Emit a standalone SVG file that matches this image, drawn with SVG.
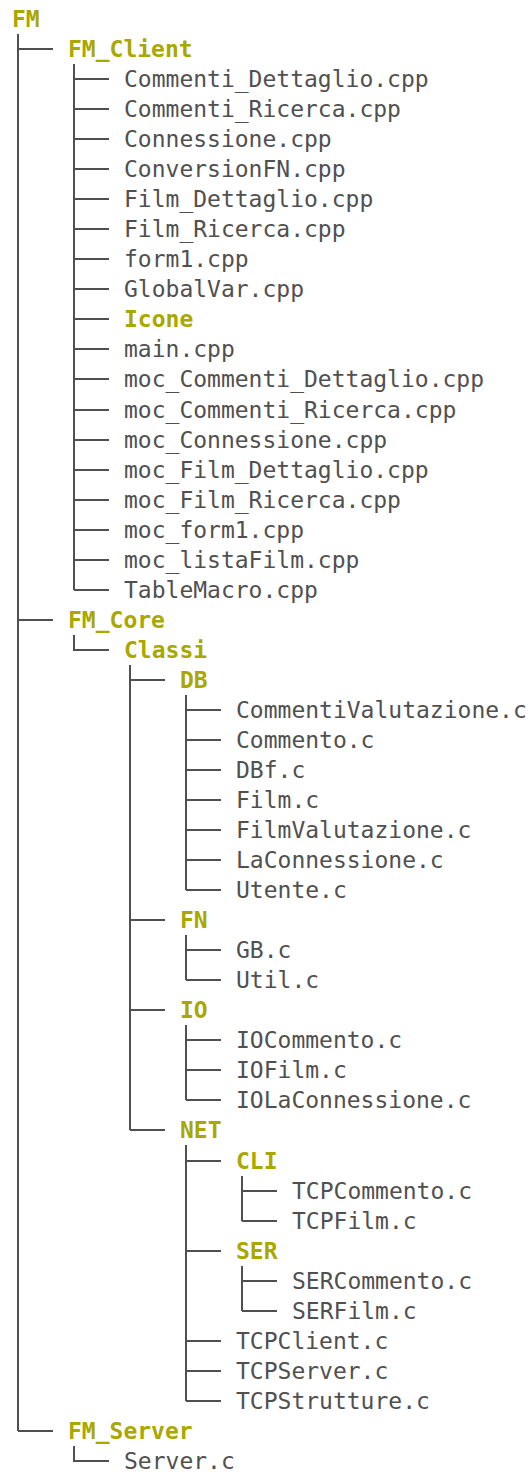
<svg xmlns="http://www.w3.org/2000/svg" width="531" height="1472" viewBox="0 0 531 1472">
  <style>
    text { font-family: "DejaVu Sans Mono", "Liberation Mono", monospace; font-size: 23px; }
    .dir { fill: #a8a800; font-weight: bold; }
    .file { fill: #505050; }
    .link { fill: none; stroke: #505050; stroke-width: 2; }
  </style>
  <rect width="531" height="1472" fill="#ffffff"/>

  <!-- tree connectors: one path per folder (trunk + branch ticks) -->
  <g id="connectors" class="link">
    <path d="M18,34 V1431 M18,49 H53 M18,620 H53 M18,1431 H53"/>
    <path d="M74,64 V590 M74,79 H109 M74,109 H109 M74,139 H109 M74,169 H109 M74,199 H109 M74,229 H109 M74,259 H109 M74,289 H109 M74,319 H109 M74,349 H109 M74,379 H109 M74,410 H109 M74,440 H109 M74,470 H109 M74,500 H109 M74,530 H109 M74,560 H109 M74,590 H109"/>
    <path d="M74,635 V650 H109"/>
    <path d="M130,665 V1130 M130,680 H165 M130,920 H165 M130,1010 H165 M130,1130 H165"/>
    <path d="M186,695 V890 M186,710 H221 M186,740 H221 M186,770 H221 M186,800 H221 M186,830 H221 M186,860 H221 M186,890 H221"/>
    <path d="M186,935 V980 M186,950 H221 M186,980 H221"/>
    <path d="M186,1025 V1100 M186,1040 H221 M186,1070 H221 M186,1100 H221"/>
    <path d="M186,1145 V1401 M186,1161 H221 M186,1251 H221 M186,1341 H221 M186,1371 H221 M186,1401 H221"/>
    <path d="M242,1176 V1221 M242,1191 H277 M242,1221 H277"/>
    <path d="M242,1266 V1311 M242,1281 H277 M242,1311 H277"/>
    <path d="M74,1446 V1461 H109"/>
  </g>

  <g id="FM"><text class="dir" x="12" y="27">FM</text></g>

  <g id="FM_Client"><text class="dir" x="68" y="57">FM_Client</text></g>
  <g id="Commenti_Dettaglio_cpp"><text class="file" x="124" y="87">Commenti_Dettaglio.cpp</text></g>
  <g id="Commenti_Ricerca_cpp"><text class="file" x="124" y="117">Commenti_Ricerca.cpp</text></g>
  <g id="Connessione_cpp"><text class="file" x="124" y="147">Connessione.cpp</text></g>
  <g id="ConversionFN_cpp"><text class="file" x="124" y="177">ConversionFN.cpp</text></g>
  <g id="Film_Dettaglio_cpp"><text class="file" x="124" y="207">Film_Dettaglio.cpp</text></g>
  <g id="Film_Ricerca_cpp"><text class="file" x="124" y="237">Film_Ricerca.cpp</text></g>
  <g id="form1_cpp"><text class="file" x="124" y="267">form1.cpp</text></g>
  <g id="GlobalVar_cpp"><text class="file" x="124" y="297">GlobalVar.cpp</text></g>
  <g id="Icone"><text class="dir" x="124" y="327">Icone</text></g>
  <g id="main_cpp"><text class="file" x="124" y="357">main.cpp</text></g>
  <g id="moc_Commenti_Dettaglio_cpp"><text class="file" x="124" y="387">moc_Commenti_Dettaglio.cpp</text></g>
  <g id="moc_Commenti_Ricerca_cpp"><text class="file" x="124" y="418">moc_Commenti_Ricerca.cpp</text></g>
  <g id="moc_Connessione_cpp"><text class="file" x="124" y="448">moc_Connessione.cpp</text></g>
  <g id="moc_Film_Dettaglio_cpp"><text class="file" x="124" y="478">moc_Film_Dettaglio.cpp</text></g>
  <g id="moc_Film_Ricerca_cpp"><text class="file" x="124" y="508">moc_Film_Ricerca.cpp</text></g>
  <g id="moc_form1_cpp"><text class="file" x="124" y="538">moc_form1.cpp</text></g>
  <g id="moc_listaFilm_cpp"><text class="file" x="124" y="568">moc_listaFilm.cpp</text></g>
  <g id="TableMacro_cpp"><text class="file" x="124" y="598">TableMacro.cpp</text></g>

  <g id="FM_Core"><text class="dir" x="68" y="628">FM_Core</text></g>
  <g id="Classi"><text class="dir" x="124" y="658">Classi</text></g>

  <g id="DB"><text class="dir" x="180" y="688">DB</text></g>
  <g id="CommentiValutazione_c"><text class="file" x="236" y="718">CommentiValutazione.c</text></g>
  <g id="Commento_c"><text class="file" x="236" y="748">Commento.c</text></g>
  <g id="DBf_c"><text class="file" x="236" y="778">DBf.c</text></g>
  <g id="Film_c"><text class="file" x="236" y="808">Film.c</text></g>
  <g id="FilmValutazione_c"><text class="file" x="236" y="838">FilmValutazione.c</text></g>
  <g id="LaConnessione_c"><text class="file" x="236" y="868">LaConnessione.c</text></g>
  <g id="Utente_c"><text class="file" x="236" y="898">Utente.c</text></g>

  <g id="FN"><text class="dir" x="180" y="928">FN</text></g>
  <g id="GB_c"><text class="file" x="236" y="958">GB.c</text></g>
  <g id="Util_c"><text class="file" x="236" y="988">Util.c</text></g>

  <g id="IO"><text class="dir" x="180" y="1018">IO</text></g>
  <g id="IOCommento_c"><text class="file" x="236" y="1048">IOCommento.c</text></g>
  <g id="IOFilm_c"><text class="file" x="236" y="1078">IOFilm.c</text></g>
  <g id="IOLaConnessione_c"><text class="file" x="236" y="1108">IOLaConnessione.c</text></g>

  <g id="NET"><text class="dir" x="180" y="1138">NET</text></g>
  <g id="CLI"><text class="dir" x="236" y="1169">CLI</text></g>
  <g id="TCPCommento_c"><text class="file" x="292" y="1199">TCPCommento.c</text></g>
  <g id="TCPFilm_c"><text class="file" x="292" y="1229">TCPFilm.c</text></g>
  <g id="SER"><text class="dir" x="236" y="1259">SER</text></g>
  <g id="SERCommento_c"><text class="file" x="292" y="1289">SERCommento.c</text></g>
  <g id="SERFilm_c"><text class="file" x="292" y="1319">SERFilm.c</text></g>
  <g id="TCPClient_c"><text class="file" x="236" y="1349">TCPClient.c</text></g>
  <g id="TCPServer_c"><text class="file" x="236" y="1379">TCPServer.c</text></g>
  <g id="TCPStrutture_c"><text class="file" x="236" y="1409">TCPStrutture.c</text></g>

  <g id="FM_Server"><text class="dir" x="68" y="1439">FM_Server</text></g>
  <g id="Server_c"><text class="file" x="124" y="1469">Server.c</text></g>
</svg>
